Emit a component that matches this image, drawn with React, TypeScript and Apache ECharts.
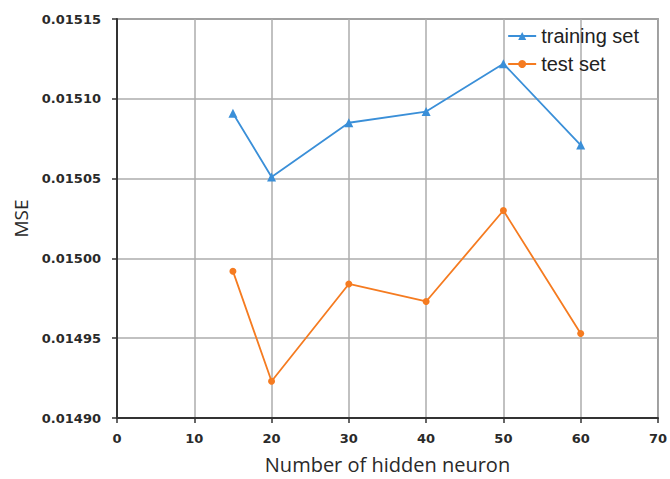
import React, { useEffect, useRef } from "react";
import * as echarts from "echarts";

const xValues = [15, 20, 30, 40, 50, 60];
const trainingSet = [0.015091, 0.015051, 0.015085, 0.015092, 0.015122, 0.015071];
const testSet = [0.014992, 0.014923, 0.014984, 0.014973, 0.01503, 0.014953];
const seriesNames = ["training set", "test set"];

export default function App() {
  const ref = useRef<HTMLDivElement>(null);
  useEffect(() => {
    if (!ref.current) return;
    const chart = echarts.init(ref.current, null, { renderer: "svg" });
    const tickFont = {
      fontFamily: "DejaVu Sans",
      fontWeight: "bold" as const,
      fontSize: 13,
      color: "#2a2a2a",
    };
    chart.setOption({
      animation: false,
      backgroundColor: "#fff",
      grid: {
        left: 117,
        right: 10,
        top: 19,
        bottom: 57,
        show: true,
        borderColor: "#555",
        borderWidth: 1.5,
      },
      legend: {
        orient: "vertical",
        right: 26,
        top: 21,
        itemWidth: 28,
        itemHeight: 10,
        itemGap: 8,
        textStyle: { fontFamily: "Liberation Sans", fontSize: 20, color: "#222" },
        data: seriesNames,
      },
      xAxis: {
        type: "value",
        min: 0,
        max: 70,
        interval: 10,
        name: "Number of hidden neuron",
        nameLocation: "middle",
        nameGap: 36,
        nameTextStyle: { fontFamily: "Open Sans", fontSize: 20, color: "#2a2a2a" },
        axisLine: { show: true, lineStyle: { color: "#333", width: 2 } },
        axisTick: { show: true, length: 5, lineStyle: { color: "#333", width: 1.5 } },
        axisLabel: { ...tickFont, margin: 14 },
        splitLine: { show: true, lineStyle: { color: "#adadad", width: 1.5 } },
      },
      yAxis: {
        type: "value",
        min: 0.0149,
        max: 0.01515,
        interval: 0.00005,
        name: "MSE",
        nameLocation: "middle",
        nameGap: 86,
        nameRotate: 90,
        nameTextStyle: { fontFamily: "Open Sans", fontSize: 19, color: "#2a2a2a" },
        axisLine: { show: true, lineStyle: { color: "#333", width: 2 } },
        axisTick: { show: true, length: 5, lineStyle: { color: "#333", width: 1.5 } },
        axisLabel: {
          ...tickFont,
          margin: 16,
          formatter: (v: number) => v.toFixed(5),
        },
        splitLine: { show: true, lineStyle: { color: "#adadad", width: 1.5 } },
      },
      series: [
        {
          name: seriesNames[0],
          type: "line",
          data: xValues.map((x, i) => [x, trainingSet[i]]),
          symbol: "triangle",
          symbolSize: 9,
          itemStyle: { color: "#3a8fd8" },
          lineStyle: { color: "#3a8fd8", width: 1.8 },
        },
        {
          name: seriesNames[1],
          type: "line",
          data: xValues.map((x, i) => [x, testSet[i]]),
          symbol: "circle",
          symbolSize: 7,
          itemStyle: { color: "#f57b20" },
          lineStyle: { color: "#f57b20", width: 1.8 },
        },
      ],
    });
    return () => chart.dispose();
  }, []);
  return <div ref={ref} style={{ width: 670, height: 479, position: "absolute", left: 0, top: 0 }} />;
}
